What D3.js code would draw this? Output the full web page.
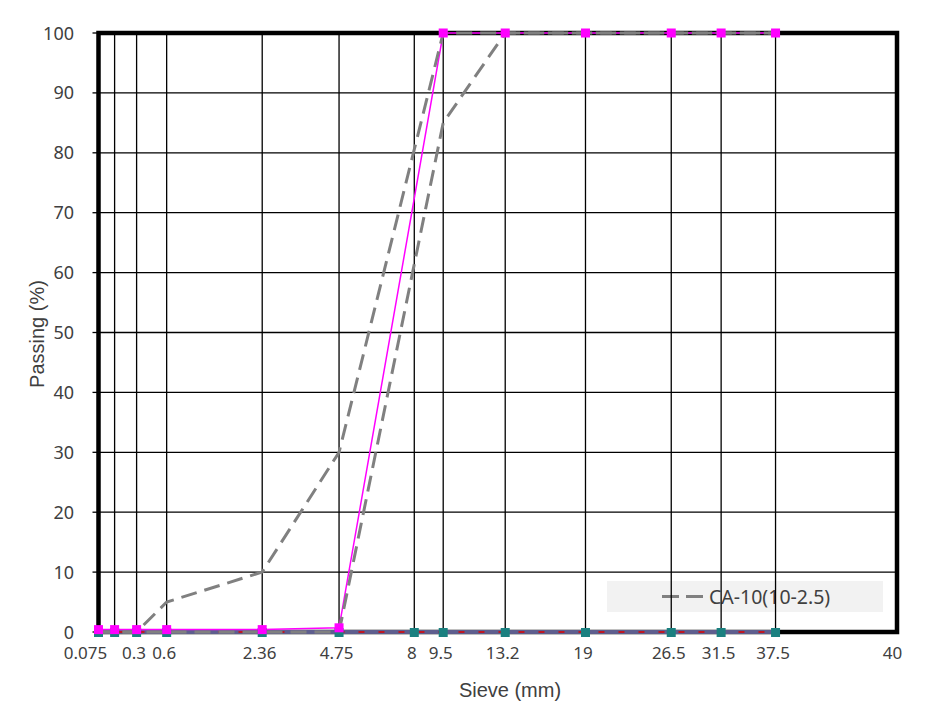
<!DOCTYPE html>
<meta charset="utf-8" />
<style>
  body { margin: 0; background: #fff; }
  text { font-family: "Noto Sans", "DejaVu Sans", sans-serif; fill: #404040; }
  .title { font-family: "Liberation Sans", Arial, sans-serif; font-size: 20px; }
</style>
<body>
<script src="https://d3js.org/d3.v7.min.js"></script>
<script>
  // sieve sizes (mm) shown as grid lines / ticks
  var sieves = [0.075, 0.15, 0.3, 0.6, 2.36, 4.75, 8, 9.5, 13.2, 19, 26.5, 31.5, 37.5];
  var tickLabels = ["0.075", "", "0.3", "0.6", "2.36", "4.75", "8", "9.5", "13.2", "19", "26.5", "31.5", "37.5"];
  var endLabel = "40";
  var yTicks = [0, 10, 20, 30, 40, 50, 60, 70, 80, 90, 100];

  // measured sample
  var sampleSieves = [0.075, 0.15, 0.3, 0.6, 2.36, 4.75, 9.5, 13.2, 19, 26.5, 31.5, 37.5];
  var samplePassing = [0.4, 0.4, 0.4, 0.4, 0.4, 0.7, 100, 100, 100, 100, 100, 100];

  // CA-10(10-2.5) spec band
  var upperSieves = [0.075, 0.15, 0.3, 0.6, 2.36, 4.75, 9.5, 13.2, 19, 26.5, 31.5, 37.5];
  var upperPassing = [0, 0, 0, 5, 10, 30, 100, 100, 100, 100, 100, 100];
  var lowerSieves = [0.075, 0.15, 0.3, 0.6, 2.36, 4.75, 9.5, 13.2, 19, 26.5, 31.5, 37.5];
  var lowerPassing = [0, 0, 0, 0, 0, 0, 85, 100, 100, 100, 100, 100];

  // empty series sitting on zero
  var zeroSieves = [0.075, 0.15, 0.3, 0.6, 2.36, 4.75, 8, 9.5, 13.2, 19, 26.5, 31.5, 37.5];
  var zeroPassing = [0, 0, 0, 0, 0, 0, 0, 0, 0, 0, 0, 0, 0];

  var legendLabel = "CA-10(10-2.5)";

  var W = 936, H = 728;
  var pLeft = 98.5, pRight = 897, pTop = 33, pBottom = 632;

  var svg = d3.select("body").append("svg").attr("width", W).attr("height", H);

  // gradation chart: sieve size raised to the 0.45 power
  var x = d3.scalePow().exponent(0.45).domain([0.075, 53]).range([pLeft, pRight]);
  var y = d3.scaleLinear().domain([0, 100]).range([pBottom, pTop]);

  function pairs(xs, ys) {
    return xs.map(function (d, i) { return [d, ys[i]]; });
  }
  var line = d3.line().x(function (d) { return x(d[0]); }).y(function (d) { return y(d[1]); });

  // legend (drawn under the grid, lines show through it)
  var lg = svg.append("g");
  lg.append("rect").attr("x", 607).attr("y", 581).attr("width", 276).attr("height", 31).attr("fill", "#f2f2f2");
  lg.append("line").attr("x1", 662).attr("x2", 704).attr("y1", 596.5).attr("y2", 596.5)
    .attr("stroke", "#808080").attr("stroke-width", 3).attr("stroke-dasharray", "17,7");
  lg.append("text").attr("x", 709).attr("y", 603.5).style("font-size", "19.5px").text(legendLabel);

  // grid
  svg.append("g").selectAll("line").data(yTicks.slice(1, -1)).enter().append("line")
    .attr("x1", pLeft).attr("x2", pRight)
    .attr("y1", function (d) { return y(d); }).attr("y2", function (d) { return y(d); })
    .attr("stroke", "#000").attr("stroke-width", 1.3);
  svg.append("g").selectAll("line").data(sieves.slice(1)).enter().append("line")
    .attr("x1", function (d) { return x(d); }).attr("x2", function (d) { return x(d); })
    .attr("y1", pTop).attr("y2", pBottom)
    .attr("stroke", "#000").attr("stroke-width", 1.3);

  // y ticks outside
  svg.append("g").selectAll("line").data(yTicks).enter().append("line")
    .attr("x1", pLeft - 6).attr("x2", pLeft)
    .attr("y1", function (d) { return y(d); }).attr("y2", function (d) { return y(d); })
    .attr("stroke", "#000").attr("stroke-width", 1.3);

  // y labels
  svg.append("g").selectAll("text").data(yTicks).enter().append("text")
    .attr("x", 74).attr("y", function (d) { return y(d) + 6.5; })
    .attr("text-anchor", "end").style("font-size", "18px")
    .text(function (d) { return d; });

  // x labels
  svg.append("g").selectAll("text").data(sieves).enter().append("text")
    .attr("x", function (d, i) { return x(d) - (i === 0 ? 13 : 2.5); })
    .attr("y", 659).attr("text-anchor", "middle").style("font-size", "17px")
    .text(function (d, i) { return tickLabels[i]; });
  svg.append("text").attr("x", pRight - 4.5).attr("y", 659).attr("text-anchor", "middle")
    .style("font-size", "17px").text(endLabel);

  // axis titles
  svg.append("text").attr("class", "title").attr("x", 510).attr("y", 697)
    .attr("text-anchor", "middle").text("Sieve (mm)");
  svg.append("text").attr("class", "title")
    .attr("transform", "translate(44,334) rotate(-90)")
    .attr("text-anchor", "middle").text("Passing (%)");

  // plot border (series are drawn over it)
  svg.append("rect").attr("x", pLeft).attr("y", pTop)
    .attr("width", pRight - pLeft).attr("height", pBottom - pTop)
    .attr("fill", "none").attr("stroke", "#000").attr("stroke-width", 4.5);

  // zero series
  svg.append("path").datum(pairs(zeroSieves, zeroPassing)).attr("d", line)
    .attr("fill", "none").attr("stroke", "#5e5e8e").attr("stroke-width", 4);
  svg.append("path").datum(pairs(zeroSieves, zeroPassing)).attr("d", line)
    .attr("fill", "none").attr("stroke", "#e00000").attr("stroke-width", 1.5)
    .attr("stroke-dasharray", "6,14");

  // sample line
  svg.append("path").datum(pairs(sampleSieves, samplePassing)).attr("d", line)
    .attr("fill", "none").attr("stroke", "#ff00ff").attr("stroke-width", 1.5);

  // spec band
  [pairs(upperSieves, upperPassing), pairs(lowerSieves, lowerPassing)].forEach(function (s) {
    svg.append("path").datum(s).attr("d", line)
      .attr("fill", "none").attr("stroke", "#808080").attr("stroke-width", 3)
      .attr("stroke-dasharray", "16,8");
  });

  // markers
  svg.append("g").selectAll("rect").data(pairs(zeroSieves, zeroPassing)).enter().append("rect")
    .attr("x", function (d) { return x(d[0]) - 4.5; })
    .attr("y", function (d) { return y(d[1]) - 4; })
    .attr("width", 9).attr("height", 9).attr("fill", "#1b8080");
  svg.append("g").selectAll("rect").data(pairs(sampleSieves, samplePassing)).enter().append("rect")
    .attr("x", function (d) { return x(d[0]) - 4.5; })
    .attr("y", function (d) { return y(d[1]) - 4.5; })
    .attr("width", 9).attr("height", 9).attr("fill", "#ff00ff");
</script>
</body>
